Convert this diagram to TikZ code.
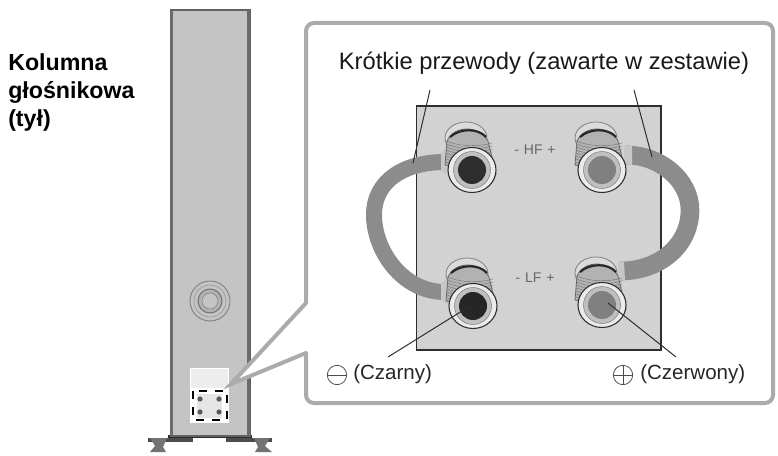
\documentclass[tikz,border=0pt]{standalone}
\usepackage{fontspec}
\setmainfont{Liberation Sans}
\definecolor{framegray}{HTML}{ABABAB}
\definecolor{bodygray}{HTML}{C4C4C4}
\definecolor{panelgray}{HTML}{D2D2D2}
\definecolor{wiregray}{HTML}{8C8C8C}
\definecolor{inkdark}{HTML}{2E2E2E}
\tikzset{
  leader/.style={draw=inkdark,line width=0.75pt},
  cablew/.style={draw=wiregray},
  lab/.style={font=\fontsize{15.4pt}{18pt}\selectfont,text=black!85,inner sep=0pt},
  titlelab/.style={font=\fontsize{17.8pt}{20pt}\selectfont,text=black!90,inner sep=0pt},
  sidelab/.style={font=\fontsize{17.4pt}{21pt}\selectfont\bfseries,text=black,inner sep=0pt,align=left,anchor=north west},
  hflab/.style={font=\fontsize{10.5pt}{12pt}\selectfont,text=black!60,inner sep=0pt},
}
\newcommand{\bindpost}[3]{%
  \begin{scope}[shift={(#1,#2)}]
    \draw[draw=gray,fill=panelgray!80!white,line width=0.6pt] (-6,-32) ellipse (21 and 16);
    \draw[draw=black!60,fill=black!30,line width=0.6pt] (-27,-5) -- (-25,-29) .. controls (-18,-45) and (7,-45) .. (16,-29) -- (24,4) -- cycle;
    \foreach \yy in {-29,-26,...,-5} \draw[black!52,line width=0.35pt] (-26,\yy) .. controls (-10,\yy+6) and (6,\yy+6) .. (20,\yy+2);
    \draw[black!85,line width=1.6pt] (-22,-33) .. controls (-12,-42) and (6,-42) .. (14,-33);
    \draw[draw=inkdark,fill=black!8,line width=0.8pt] (0,0) ellipse (24 and 22.5);
    \draw[draw=gray,fill=black!25,line width=0.4pt] (0,0) circle (18.5);
    \fill[#3] (0,0) circle (14);
  \end{scope}}
\begin{document}
\begin{tikzpicture}[x=0.75pt,y=-0.75pt]
\useasboundingbox (0,0) rectangle (778,456);
\fill[white] (0,0) rectangle (778,456);
% feet
\fill[inkdark] (168,435) rectangle (252,438);
\fill[black!70] (148,438) rectangle (193,442);
\fill[black!70] (226,438) rectangle (272,442);
\fill[black!55] (150,438) -- (167,438) -- (163,447) -- (166,452) -- (150,452) -- (155,446) -- cycle;
\fill[black!55] (270,438) -- (254,438) -- (258,447) -- (255,452) -- (272,452) -- (265,446) -- cycle;
% column
\draw[draw=black!62,fill=bodygray,line width=1.2pt] (170.5,10) rectangle (250,436);
\fill[black!58] (170,10) rectangle (173,436);
\fill[black!58] (247,10) rectangle (250,436);
% woofer port
\draw[gray,fill=bodygray,line width=0.7pt] (210,301) circle (20);
\draw[black!40,line width=0.5pt] (210,301) circle (16);
\draw[black!55,fill=gray!60,line width=0.8pt] (210,301) circle (12);
\draw[gray,fill=bodygray] (210,301) circle (8);
% terminal plate
\fill[white] (190,368) rectangle (229,423);
\fill[black!7] (191,369) rectangle (228,388);
\fill[black!10] (197,394) rectangle (222,418);
\draw[black,line width=1.1pt,dash pattern=on 6pt off 6pt] (193,391) rectangle (227,420);
\foreach \dx/\dy in {200/399,219/399,200/412,219/412} \fill[black!65] (\dx,\dy) circle (2.6);
% callout wedge
\coordinate (wtip) at (231,384);
\coordinate (wup) at (306,303);
\coordinate (wlo) at (306,353);
\fill[white] (wup) -- (wtip) -- (wlo) -- cycle;
\draw[framegray,line width=3pt,rounded corners=6pt,line cap=round] (wup) -- (306,23) -- (773,23) -- (773,403) -- (306,403) -- (wlo);
\draw[framegray,line width=3pt] (wup) -- (wtip) -- (wlo);
% panel
\draw[draw=inkdark,fill=panelgray,line width=1.3pt] (416.5,106) rectangle (661,350);
% cables
\coordinate (ltop) at (445,162);
\coordinate (lbot) at (445,292);
\coordinate (rtop) at (626,155);
\coordinate (rbot) at (620,271);
\draw[cablew,line width=12pt] (ltop) .. controls (405,162) and (374,180) .. (374,215) .. controls (374,250) and (402,292) .. (lbot);
\draw[cablew,line width=14pt] (rtop) .. controls (660,155) and (690,180) .. (690,210) .. controls (690,245) and (660,271) .. (rbot);
% lugs
\fill[black!22] (441,153) -- (449,147) -- (449,176) -- (441,171) -- cycle;
\fill[black!22] (441,283) -- (449,277) -- (449,305) -- (441,300) -- cycle;
\fill[black!22] (624,146) -- (632,146) -- (632,165) -- (624,163) -- cycle;
\fill[black!22] (618,262) -- (624,262) -- (625,280) -- (618,280) -- cycle;
% posts
\bindpost{472}{170}{black!82}
\bindpost{602}{170}{black!50}
\bindpost{473}{306}{black!85}
\bindpost{602}{305}{black!50}
\coordinate (tl) at (430,90);
\coordinate (tle) at (413,163);
\coordinate (tr) at (634,90);
\coordinate (tre) at (652,157);
\coordinate (bl) at (388,357);
\coordinate (ble) at (470,306);
\coordinate (br) at (676,357);
\coordinate (bre) at (608,303);
\draw[leader] (tl) -- (tle);
\draw[leader] (tr) -- (tre);
\draw[leader] (bl) -- (ble);
\draw[leader] (br) -- (bre);
% panel labels
\node[hflab] (hf) at (535,150) {-\hspace{0.35em}HF\hspace{0.35em}+};
\node[hflab] (lf) at (535,278) {-\hspace{0.35em}LF\hspace{0.35em}+};
% texts
\node[titlelab,anchor=center] (title) at (544,63) {Krótkie przewody (zawarte w zestawie)};
\node[lab,anchor=west] (czarny) at (353,374) {(Czarny)};
\node[lab,anchor=west] (czerw) at (640,374) {(Czerwony)};
\node[circle,draw=black!70,line width=0.6pt,minimum size=14.5pt,inner sep=0pt] (minus) at (337,375) {};
\draw[black!70,line width=0.6pt] (minus.west) -- (minus.east);
\node[circle,draw=black!70,line width=0.6pt,minimum size=14.5pt,inner sep=0pt] (plus) at (623,375) {};
\draw[black!70,line width=0.6pt] (plus.west) -- (plus.east);
\draw[black!70,line width=0.6pt] (plus.north) -- (plus.south);
\node[sidelab] (side) at (8,53) {Kolumna\\głośnikowa\\(tył)};
\end{tikzpicture}
\end{document}
